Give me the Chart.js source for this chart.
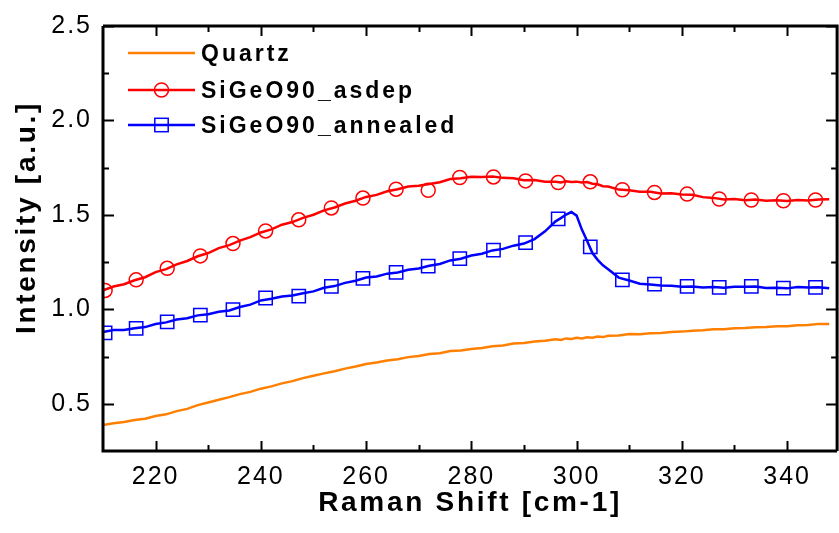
<!DOCTYPE html>
<html>
<head>
<meta charset="utf-8">
<script src="https://cdn.jsdelivr.net/npm/chart.js@4/dist/chart.umd.min.js"></script>
<style>
  html, body { margin: 0; padding: 0; background: #ffffff; overflow: hidden; width: 839px; height: 533px; }
  canvas { display: block; }
</style>
</head>
<body>
<canvas id="c" width="848" height="533"></canvas>
<script>
// ---- data ----
const ramanShift = [210,212,214,216,218,220,222,224,226,228,230,232,234,236,238,240,242,244,246,248,250,252,254,256,258,260,262,264,266,268,270,272,274,276,278,280,282,284,286,288,290,292,294,296,297,298,299,300,301,302,303,304,305,306,308,310,312,314,316,318,320,322,324,326,328,330,332,334,336,338,340,342,344,346,348];

const quartz = [0.388,0.397,0.404,0.414,0.421,0.435,0.444,0.461,0.473,0.493,0.507,0.521,0.535,0.551,0.563,0.580,0.592,0.608,0.620,0.636,0.648,0.661,0.672,0.686,0.697,0.711,0.718,0.729,0.736,0.747,0.753,0.763,0.768,0.779,0.782,0.790,0.795,0.804,0.809,0.819,0.822,0.830,0.834,0.841,0.838,0.846,0.843,0.849,0.846,0.852,0.850,0.856,0.853,0.860,0.862,0.869,0.868,0.874,0.875,0.880,0.882,0.887,0.889,0.894,0.895,0.900,0.901,0.905,0.906,0.910,0.911,0.916,0.917,0.923,0.922];

const asdep = [1.100,1.121,1.133,1.154,1.170,1.197,1.213,1.238,1.256,1.281,1.298,1.324,1.340,1.364,1.382,1.407,1.423,1.448,1.462,1.484,1.501,1.524,1.539,1.560,1.575,1.595,1.606,1.625,1.636,1.650,1.654,1.664,1.673,1.690,1.694,1.702,1.700,1.703,1.696,1.694,1.683,1.685,1.676,1.676,1.672,1.678,1.674,1.676,1.671,1.674,1.665,1.662,1.652,1.650,1.634,1.630,1.622,1.622,1.613,1.614,1.608,1.607,1.594,1.590,1.581,1.584,1.577,1.582,1.575,1.578,1.573,1.579,1.576,1.582,1.583];

const annealed = [0.880,0.890,0.891,0.900,0.906,0.922,0.931,0.946,0.953,0.968,0.974,0.987,0.994,1.012,1.025,1.047,1.056,1.068,1.073,1.085,1.095,1.114,1.123,1.140,1.151,1.168,1.174,1.189,1.195,1.209,1.216,1.231,1.240,1.259,1.268,1.285,1.294,1.312,1.320,1.337,1.348,1.372,1.413,1.466,1.483,1.502,1.515,1.496,1.422,1.362,1.298,1.262,1.233,1.212,1.168,1.153,1.136,1.132,1.126,1.125,1.119,1.121,1.116,1.118,1.114,1.120,1.119,1.121,1.113,1.114,1.111,1.118,1.116,1.117,1.112];

// marker symbols (every n-th measured point)
const markerShift = [210.4,216.3,222.2,228.5,234.7,240.9,247.2,253.4,259.4,265.7,271.8,277.8,284.2,290.3,296.5,302.6,308.7,314.8,321.0,327.1,333.2,339.3,345.4];
const asdepMarkers = [1.100,1.156,1.217,1.283,1.348,1.415,1.474,1.537,1.589,1.636,1.630,1.698,1.701,1.680,1.671,1.675,1.633,1.619,1.610,1.584,1.579,1.575,1.579];
const annealedMarkers = [0.875,0.899,0.934,0.969,0.999,1.060,1.070,1.121,1.164,1.196,1.229,1.269,1.313,1.353,1.479,1.331,1.156,1.133,1.121,1.116,1.121,1.112,1.116];

// axis ticks
const xMajorTicks = [220,240,260,280,300,320,340];
const xMinorTicks = [230,250,270,290,310,330];
const yMajorTicks = [0.5,1.0,1.5,2.0,2.5];
const yMinorTicks = [0.75,1.25,1.75,2.25];

const seriesNames = ['Quartz','SiGeO90_asdep','SiGeO90_annealed'];
const colors = { quartz: '#ff8000', asdep: '#ff0000', annealed: '#0000ff' };

const FONT = "'Liberation Sans', Arial, Helvetica, sans-serif";

function toXY(xs, ys) { return xs.map((x, i) => ({ x: x, y: ys[i] })); }

const isMajor = (v, list) => list.some(m => Math.abs(m - v) < 1e-9);

const framePlugin = {
  id: 'frame',
  beforeDraw(chart) {
    // axis titles are drawn before the datasets
    chart.ctx.letterSpacing = '2.7px';
  },
  afterDatasetsDraw(chart) {
    const { ctx, chartArea: { left, right, top, bottom }, scales: { x, y } } = chart;
    ctx.save();
    ctx.strokeStyle = '#000';
    ctx.lineCap = 'butt';
    ctx.lineWidth = 2;
    ctx.beginPath();
    x.ticks.forEach(t => {
      const px = Math.round(x.getPixelForValue(t.value)) + 0.5;
      const len = isMajor(t.value, xMajorTicks) ? 10 : 6;
      ctx.moveTo(px, bottom); ctx.lineTo(px, bottom - len);
      ctx.moveTo(px, top); ctx.lineTo(px, top + len);
    });
    y.ticks.forEach(t => {
      const py = Math.round(y.getPixelForValue(t.value)) + 0.5;
      const len = isMajor(t.value, yMajorTicks) ? 11 : 6;
      ctx.moveTo(left, py); ctx.lineTo(left + len, py);
      ctx.moveTo(right, py); ctx.lineTo(right - len, py);
    });
    ctx.stroke();
    ctx.lineWidth = 3;
    ctx.beginPath();
    ctx.moveTo(left, top); ctx.lineTo(left, bottom); ctx.lineTo(right, bottom);
    ctx.moveTo(left, top); ctx.lineTo(right, top); ctx.lineTo(right, bottom);
    ctx.stroke();
    ctx.restore();
    // tick labels are drawn after this hook (ticks.z = 1)
    ctx.letterSpacing = '2px';
  },
  afterDraw(chart) {
    const ctx = chart.ctx;
    const rows = [
      { name: seriesNames[0], color: colors.quartz, marker: null, y: 53 },
      { name: seriesNames[1], color: colors.asdep, marker: 'circle', y: 90 },
      { name: seriesNames[2], color: colors.annealed, marker: 'rect', y: 125 }
    ];
    ctx.save();
    ctx.letterSpacing = '3px';
    ctx.font = 'bold 23px ' + FONT;
    ctx.textBaseline = 'middle';
    ctx.textAlign = 'left';
    rows.forEach(r => {
      ctx.strokeStyle = r.color;
      ctx.lineWidth = 2.5;
      ctx.beginPath(); ctx.moveTo(128, r.y); ctx.lineTo(195, r.y); ctx.stroke();
      ctx.lineWidth = 1.5;
      if (r.marker === 'circle') {
        ctx.beginPath(); ctx.arc(161.5, r.y, 7, 0, Math.PI * 2); ctx.stroke();
      } else if (r.marker === 'rect') {
        ctx.strokeRect(154.8, r.y - 6.7, 13.4, 13.4);
      }
      ctx.fillStyle = '#000';
      ctx.fillText(r.name, 201, r.y + 1.5);
    });
    ctx.restore();
  }
};

const lineDs = (label, ys, color) => ({
  label: label,
  data: toXY(ramanShift, ys),
  borderColor: color,
  borderWidth: 2.5,
  pointRadius: 0,
  tension: 0,
  fill: false
});
const markerDs = (label, xs, ys, color, style, radius) => ({
  label: label,
  data: toXY(xs, ys),
  showLine: false,
  borderColor: color,
  backgroundColor: 'rgba(0,0,0,0)',
  pointStyle: style,
  pointRadius: radius,
  pointBorderWidth: 1.5,
  pointBackgroundColor: 'rgba(0,0,0,0)',
  pointBorderColor: color
});

new Chart(document.getElementById('c'), {
  type: 'line',
  data: {
    datasets: [
      markerDs(seriesNames[2] + ' markers', markerShift, annealedMarkers, colors.annealed, 'rect', 9.4),
      lineDs(seriesNames[2], annealed, colors.annealed),
      markerDs(seriesNames[1] + ' markers', markerShift, asdepMarkers, colors.asdep, 'circle', 7),
      lineDs(seriesNames[1], asdep, colors.asdep),
      lineDs(seriesNames[0], quartz, colors.quartz)
    ]
  },
  options: {
    responsive: false,
    animation: false,
    events: [],
    layout: { padding: { top: 22, right: 0, bottom: 0, left: 0 } },
    plugins: { legend: { display: false }, tooltip: { enabled: false } },
    scales: {
      x: {
        type: 'linear',
        min: 210,
        max: 349.5,
        afterBuildTicks(scale) {
          scale.ticks = [...xMajorTicks, ...xMinorTicks].sort((a, b) => a - b).map(v => ({ value: v }));
        },
        afterFit(scale) { scale.height = 82; },
        grid: { display: false, drawTicks: false, tickLength: 0 },
        border: { display: false },
        ticks: {
          z: 1,
          autoSkip: false,
          maxRotation: 0,
          padding: 11.5,
          color: '#000',
          font: { family: FONT, size: 25 },
          callback: (v) => isMajor(v, xMajorTicks) ? String(v) : ''
        },
        title: {
          display: true,
          text: 'Raman Shift [cm-1]',
          color: '#000',
          font: { family: FONT, size: 28, weight: 'bold' },
          padding: { top: 0, bottom: 13 }
        }
      },
      y: {
        type: 'linear',
        min: 0.25,
        max: 2.5,
        afterBuildTicks(scale) {
          scale.ticks = [...yMajorTicks, ...yMinorTicks].sort((a, b) => a - b).map(v => ({ value: v }));
        },
        afterFit(scale) { scale.width = 103; },
        grid: { display: false, drawTicks: false, tickLength: 0 },
        border: { display: false },
        ticks: {
          z: 1,
          autoSkip: false,
          padding: 11,
          color: '#000',
          font: { family: FONT, size: 25 },
          callback: (v) => isMajor(v, yMajorTicks) ? v.toFixed(1) : ''
        },
        title: {
          display: true,
          text: '    Intensity [a.u.]',
          color: '#000',
          font: { family: FONT, size: 28, weight: 'bold' },
          padding: { top: 10, bottom: 0 }
        }
      }
    }
  },
  plugins: [framePlugin]
});
</script>
</body>
</html>
